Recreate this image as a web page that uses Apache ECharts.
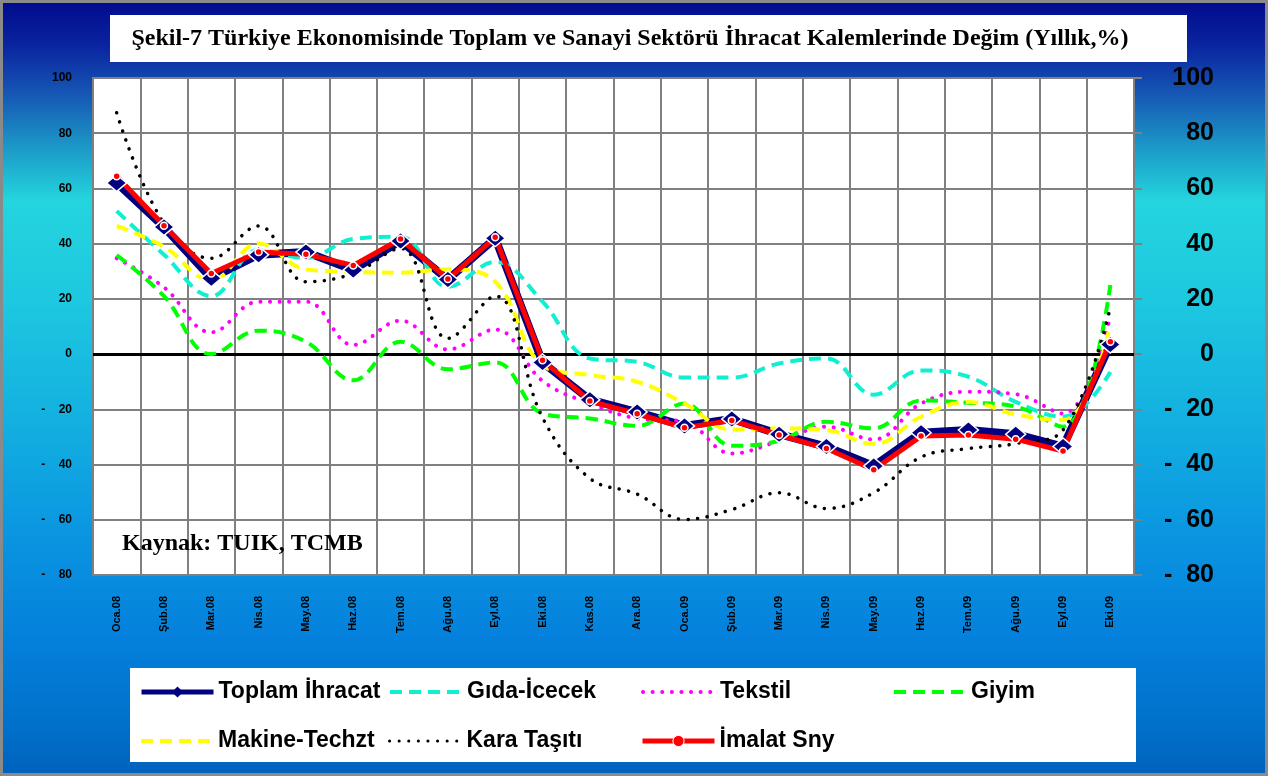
<!DOCTYPE html>
<html>
<head>
<meta charset="utf-8">
<script src="https://cdn.jsdelivr.net/npm/echarts@6/dist/echarts.min.js"></script>
<style>
html,body{margin:0;padding:0;}
#c{width:1268px;height:776px;background:linear-gradient(to bottom,#000a8c 0px,#0a24a0 45px,#1658b4 95px,#1c9cc8 150px,#24d4de 200px,#1ec8e0 300px,#12aee0 430px,#0a94e0 540px,#0480dc 640px,#0072cc 720px,#0062bc 776px);}
</style>
</head>
<body>
<div id="c"></div>
<script>
const categories = ['Oca.08','Şub.08','Mar.08','Nis.08','May.08','Haz.08','Tem.08','Ağu.08','Eyl.08','Eki.08','Kas.08','Ara.08','Oca.09','Şub.09','Mar.09','Nis.09','May.09','Haz.09','Tem.09','Ağu.09','Eyl.09','Eki.09'];
const toplamIhracat = [62, 46, 27.5, 36, 37, 30.5, 41, 27, 42, -3, -16.5, -21, -26, -23.5, -29, -33.5, -40.5, -28.5, -27.5, -29, -33.5, 3.5];
const gidaIcecek = [51.8, 36, 21, 37.7, 34.8, 41.7, 42.5, 24.4, 33.4, 19, -1.6, -2.8, -8.5, -8.5, -3.4, -1.6, -14.7, -5.9, -8.2, -17.3, -22.7, -6.5];
const tekstil = [34.7, 24.2, 7.9, 19, 19, 3.3, 12.1, 1.7, 8.9, -9.7, -17.9, -23.3, -24.5, -36, -31.5, -26.3, -30.9, -17.9, -13.6, -14.5, -21.5, 14];
const giyim = [35.9, 21, 0, 8.5, 4.5, -9.5, 4.5, -5.5, -3, -21.5, -23.3, -26, -17.9, -33.2, -31.4, -24.5, -26.9, -16.8, -17.6, -19, -26.3, 25];
const makineTechzt = [46.4, 38.9, 26.8, 40.1, 30.7, 29.8, 29.5, 30.7, 26.2, -4, -7.6, -10, -17.9, -27.3, -26.9, -27.5, -32.6, -22.7, -17.3, -21.9, -23.9, 10.5];
const karaTasiti = [87.4, 47.3, 34.7, 46.4, 26.2, 29.2, 38.3, 5.7, 21, -23, -45, -50.7, -59.9, -56.3, -50.2, -55.9, -50.2, -37.3, -34.2, -32.4, -27.5, 16.9];
const imalatSny = [64.4, 46.5, 29.2, 37, 36.2, 32.1, 41.7, 27.2, 42.3, -2.2, -17, -21.6, -26.7, -24, -29.3, -34.2, -41.9, -29.7, -29.3, -30.8, -35.1, 4.5];
const yTicks = {min: -80, max: 100, interval: 20};
const titleText = 'Şekil-7 Türkiye Ekonomisinde Toplam ve Sanayi Sektörü İhracat Kalemlerinde Değim (Yıllık,%)';
const sourceText = 'Kaynak: TUIK, TCMB';

const chart = echarts.init(document.getElementById('c'), null, {renderer: 'canvas'});
const legendFont = {fontFamily: 'Liberation Sans', fontWeight: 'bold', fontSize: 23, color: '#000', lineHeight: 24};
function mkLegend(name, left, top, lw, symStyle) {
  const l = {data: [name], left: left, top: top, itemWidth: 72, itemHeight: 14, padding: 0, selectedMode: false, textStyle: legendFont,
             lineStyle: {width: lw}, itemStyle: symStyle};
  return l;
}
function fmt(sp) {
  return function (v) { return v < 0 ? '-' + sp + Math.abs(v) : String(v); };
}
const dashed = (color, w) => ({color: color, width: w, type: [12, 7], cap: 'butt'});
const dotted = (color, w) => ({color: color, width: w, type: [0.1, 9.5], cap: 'round'});
const hidden = {opacity: 0};

const option = {
  backgroundColor: 'transparent',
  animation: false,
  grid: {left: 93, top: 78, right: 134, bottom: 201, show: true, backgroundColor: '#fff', borderColor: '#808080', borderWidth: 2},
  legend: [
    mkLegend('Toplam İhracat', 139, 680, 5, {borderWidth: 0}),
    mkLegend('Gıda-İcecek', 388, 680, 4, hidden),
    mkLegend('Tekstil', 641, 680, 4, hidden),
    mkLegend('Giyim', 892, 680, 4, hidden),
    mkLegend('Makine-Techzt', 139, 729, 4, hidden),
    mkLegend('Kara Taşıtı', 388, 729, 3, hidden),
    mkLegend('İmalat Sny', 640, 729, 5, {borderWidth: 1})
  ],
  xAxis: {
    type: 'category', data: categories, boundaryGap: true,
    axisLine: {show: false}, axisTick: {show: false},
    splitLine: {show: true, interval: 0, lineStyle: {color: '#808080', width: 2}},
    axisLabel: {interval: 0, rotate: 90, margin: 21, fontFamily: 'Liberation Sans', fontWeight: 'bold', fontSize: 11, color: '#000'}
  },
  yAxis: [
    {type: 'value', min: yTicks.min, max: yTicks.max, interval: yTicks.interval, position: 'left',
     axisLine: {show: false}, axisTick: {show: false},
     splitLine: {show: true, lineStyle: {color: '#808080', width: 2}},
     axisLabel: {margin: 21, fontFamily: 'Liberation Sans', fontWeight: 'bold', fontSize: 12, color: '#000', formatter: fmt('    ')}},
    {type: 'value', min: yTicks.min, max: yTicks.max, interval: yTicks.interval, position: 'right',
     axisLine: {show: true, lineStyle: {color: '#808080', width: 2}},
     axisTick: {show: true, length: 8, lineStyle: {color: '#808080', width: 2}},
     splitLine: {show: false},
     axisLabel: {margin: 80, align: 'right', fontFamily: 'Liberation Sans', fontWeight: 'bold', fontSize: 25, color: '#000', formatter: fmt('  ')}}
  ],
  series: [
    {name: 'Toplam İhracat', type: 'line', data: toplamIhracat, symbol: 'diamond', symbolSize: [20, 17],
     itemStyle: {color: '#000080', borderColor: '#fff', borderWidth: 1.5}, lineStyle: {color: '#000080', width: 8},
     markLine: {silent: true, symbol: 'none', label: {show: false}, lineStyle: {color: '#000', width: 3, type: 'solid'}, data: [{yAxis: 0}], z: 1}},
    {name: 'Gıda-İcecek', type: 'line', data: gidaIcecek, smooth: 0.4, symbol: 'none', lineStyle: dashed('#10F0D0', 4), itemStyle: {color: '#10F0D0'}},
    {name: 'Tekstil', type: 'line', data: tekstil, smooth: 0.4, symbol: 'none', lineStyle: dotted('#FF00FF', 4), itemStyle: {color: '#FF00FF'}},
    {name: 'Giyim', type: 'line', data: giyim, smooth: 0.4, symbol: 'none', lineStyle: dashed('#00FF00', 4), itemStyle: {color: '#00FF00'}},
    {name: 'Makine-Techzt', type: 'line', data: makineTechzt, smooth: 0.4, symbol: 'none', lineStyle: dashed('#FFFF00', 4), itemStyle: {color: '#FFFF00'}},
    {name: 'Kara Taşıtı', type: 'line', data: karaTasiti, smooth: 0.4, symbol: 'none', lineStyle: dotted('#000000', 3.5), itemStyle: {color: '#000'}},
    {name: 'İmalat Sny', type: 'line', data: imalatSny, symbol: 'circle', symbolSize: 7,
     itemStyle: {color: '#FF0000', borderColor: '#fff', borderWidth: 1.5}, lineStyle: {color: '#FF0000', width: 5}}
  ],
  graphic: [
    {type: 'rect', shape: {x: 110, y: 15, width: 1077, height: 47}, style: {fill: '#fff'}, z: 0},
    {type: 'text', x: 630, y: 39, style: {text: titleText, fill: '#000', font: 'bold 24px "Liberation Serif"', textAlign: 'center', textVerticalAlign: 'middle'}, z: 10},
    {type: 'rect', shape: {x: 130, y: 668, width: 1006, height: 94}, style: {fill: '#fff'}, z: 0},
    {type: 'text', x: 122, y: 544, style: {text: sourceText, fill: '#000', font: 'bold 24px "Liberation Serif"', textAlign: 'left', textVerticalAlign: 'middle'}, z: 10},
    {type: 'rect', shape: {x: 1.5, y: 1.5, width: 1265, height: 773}, style: {fill: null, stroke: '#8a8a8a', lineWidth: 3}, z: 100}
  ]
};
chart.setOption(option);
</script>
</body>
</html>
